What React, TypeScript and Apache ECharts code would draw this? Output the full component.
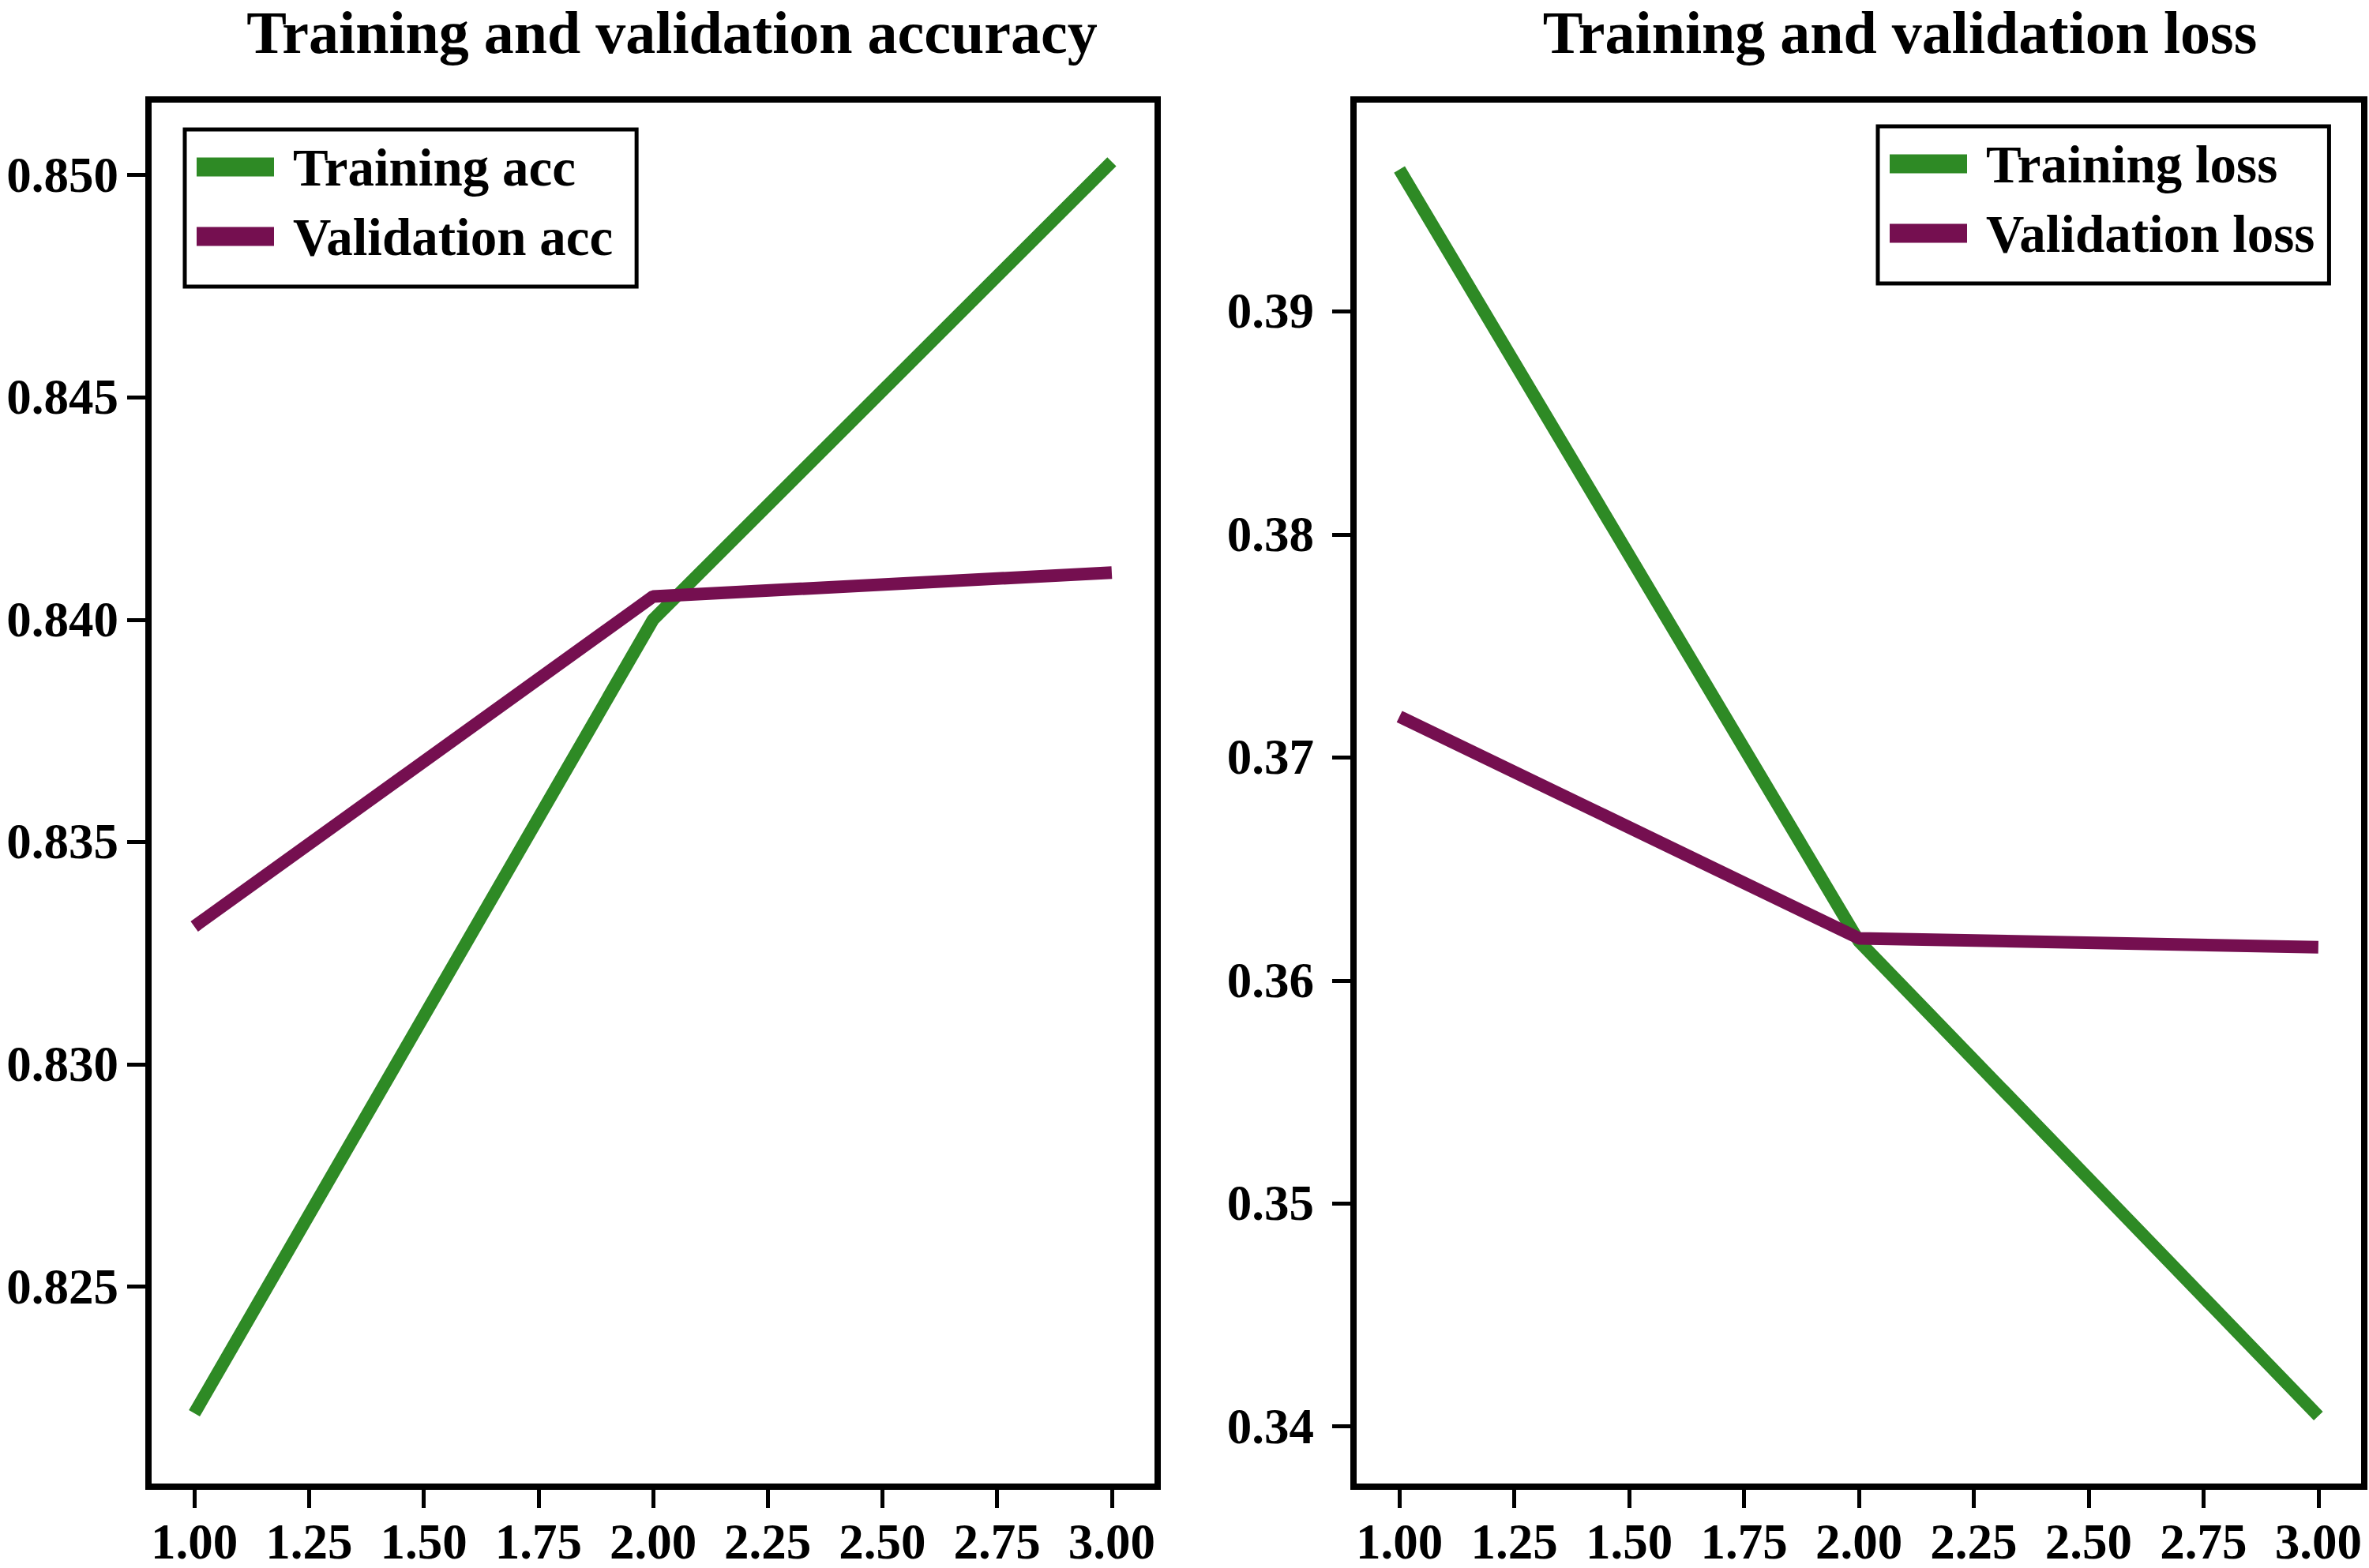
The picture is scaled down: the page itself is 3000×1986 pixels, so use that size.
import React, { useEffect, useRef } from "react";
import * as echarts from "echarts";

const EPOCHS = [1, 2, 3];
const TRAIN_ACC = [0.82215, 0.8400, 0.8503];
const VAL_ACC = [0.8331, 0.84052, 0.84106];
const TRAIN_LOSS = [0.39636, 0.36176, 0.34047];
const VAL_LOSS = [0.37183, 0.36189, 0.36149];
const X_TICKS = [1, 1.25, 1.5, 1.75, 2, 2.25, 2.5, 2.75, 3];
const ACC_TICKS = [0.825, 0.83, 0.835, 0.84, 0.845, 0.85];
const LOSS_TICKS = [0.34, 0.35, 0.36, 0.37, 0.38, 0.39];
const SERIES_NAMES = ["Training acc", "Validation acc", "Training loss", "Validation loss"];
const TITLES = ["Training and validation accuracy", "Training and validation loss"];

const GREEN = "#2e8a25";
const PURPLE = "#750f50";
const FONT = "'Liberation Serif', 'DejaVu Serif', serif";

function pairs(xs: number[], ys: number[]) {
  return xs.map((x, i) => [x, ys[i]]);
}

function xAxis(gridIndex: number) {
  return {
    type: "value",
    gridIndex,
    min: 0.9,
    max: 3.1,
    axisLine: { show: false },
    splitLine: { show: false },
    axisTick: { show: true, length: 27, lineStyle: { color: "#000", width: 5 }, customValues: X_TICKS },
    axisLabel: {
      customValues: X_TICKS,
      formatter: (v: number) => v.toFixed(2),
      margin: 38,
      fontSize: 63,
      fontFamily: FONT,
      fontWeight: "bold",
      color: "#000",
    },
  };
}

function yAxis(gridIndex: number, min: number, max: number, ticks: number[], digits: number, margin: number) {
  return {
    type: "value",
    gridIndex,
    min,
    max,
    axisLine: { show: false },
    splitLine: { show: false },
    axisTick: { show: true, length: 27, lineStyle: { color: "#000", width: 5 }, customValues: ticks },
    axisLabel: {
      customValues: ticks,
      formatter: (v: number) => v.toFixed(digits),
      margin,
      fontSize: 63,
      fontFamily: FONT,
      fontWeight: "bold",
      color: "#000",
    },
  };
}

function legend(left: number, top: number, names: string[], rightPad: number) {
  return {
    left,
    top,
    orient: "vertical",
    data: names,
    icon: "rect",
    itemWidth: 98,
    itemHeight: 24,
    itemGap: 21,
    borderColor: "#000",
    borderWidth: 5,
    borderRadius: 0,
    padding: [14, rightPad, 30, 15],
    backgroundColor: "#fff",
    textStyle: {
      fontFamily: FONT,
      fontSize: 67,
      fontWeight: "bold",
      color: "#000",
      lineHeight: 66,
      padding: [0, 0, 0, 19],
    },
  };
}

function line(name: string, xAxisIndex: number, data: number[][], color: string) {
  return {
    type: "line",
    name,
    xAxisIndex,
    yAxisIndex: xAxisIndex,
    data,
    symbol: "none",
    lineStyle: { color, width: 16 },
    itemStyle: { color },
  };
}

export default function App() {
  const ref = useRef<HTMLDivElement>(null);
  useEffect(() => {
    document.body.style.margin = "0";
    const chart = echarts.init(ref.current!, null, { renderer: "svg" });
    const titleStyle = { fontFamily: FONT, fontSize: 76, fontWeight: "bold", color: "#000", lineHeight: 80 };
    chart.setOption({
      animation: false,
      backgroundColor: "#fff",
      title: [
        { text: TITLES[0], left: 851, top: 1, textAlign: "center", padding: 0, textStyle: titleStyle },
        { text: TITLES[1], left: 2406, top: 1, textAlign: "center", padding: 0, textStyle: titleStyle },
      ],
      legend: [
        legend(234, 164, [SERIES_NAMES[0], SERIES_NAMES[1]], 30),
        legend(2378, 160, [SERIES_NAMES[2], SERIES_NAMES[3]], 18),
      ],
      grid: [
        { left: 188, top: 126, width: 1278, height: 1757, show: true, borderColor: "#000", borderWidth: 8, backgroundColor: "transparent" },
        { left: 1714, top: 126, width: 1280, height: 1757, show: true, borderColor: "#000", borderWidth: 8, backgroundColor: "transparent" },
      ],
      xAxis: [xAxis(0), xAxis(1)],
      yAxis: [
        yAxis(0, 0.8205, 0.8517, ACC_TICKS, 3, 38),
        yAxis(1, 0.3373, 0.3995, LOSS_TICKS, 2, 50),
      ],
      series: [
        line(SERIES_NAMES[0], 0, pairs(EPOCHS, TRAIN_ACC), GREEN),
        line(SERIES_NAMES[1], 0, pairs(EPOCHS, VAL_ACC), PURPLE),
        line(SERIES_NAMES[2], 1, pairs(EPOCHS, TRAIN_LOSS), GREEN),
        line(SERIES_NAMES[3], 1, pairs(EPOCHS, VAL_LOSS), PURPLE),
      ],
    });
    return () => chart.dispose();
  }, []);
  return <div ref={ref} style={{ width: 3000, height: 1986 }} />;
}
